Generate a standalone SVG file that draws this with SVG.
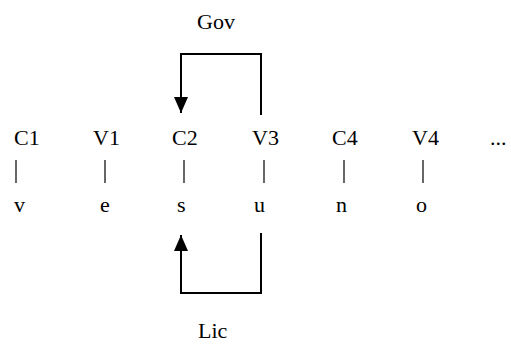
<svg xmlns="http://www.w3.org/2000/svg" width="511" height="349" viewBox="0 0 511 349">
<style>
text{font-family:"Liberation Serif","DejaVu Serif",serif;font-size:22px;fill:#000}
.ln{fill:none;stroke:#000;stroke-width:2}
.bar{stroke:#000;stroke-width:1.2}
</style>
<defs>
<marker id="ah" markerWidth="16" markerHeight="14" refX="16" refY="7" orient="auto" markerUnits="userSpaceOnUse" viewBox="0 0 16 14">
<path d="M0,0 L16,7 L0,14 Z" fill="#000"/>
</marker>
</defs>
<rect width="511" height="349" fill="#fff"/>
<g id="C1"><text x="14" y="145">C1</text><line class="bar" x1="16" y1="160" x2="16" y2="183"/><text x="14" y="212">v</text></g>
<g id="V1"><text x="93" y="145">V1</text><line class="bar" x1="105" y1="160" x2="105" y2="183"/><text x="100" y="212">e</text></g>
<g id="C2"><text x="172" y="145">C2</text><line class="bar" x1="184" y1="160" x2="184" y2="183"/><text x="177" y="212">s</text></g>
<g id="V3"><text x="252" y="145">V3</text><line class="bar" x1="264" y1="160" x2="264" y2="183"/><text x="254" y="212">u</text></g>
<g id="C4"><text x="332" y="145">C4</text><line class="bar" x1="344" y1="160" x2="344" y2="183"/><text x="336" y="212">n</text></g>
<g id="V4"><text x="412" y="145">V4</text><line class="bar" x1="423" y1="160" x2="423" y2="183"/><text x="416" y="212">o</text></g>
<g id="dots"><text x="490" y="145">...</text></g>
<g id="Gov"><text x="197" y="29">Gov</text></g>
<g id="Lic"><text x="198" y="338">Lic</text></g>
<g id="connectors">
<path class="ln" d="M261,115 L261,54 L181,54 L181,113" marker-end="url(#ah)"/>
<path class="ln" d="M261,233 L261,293 L181,293 L181,235" marker-end="url(#ah)"/>
</g>
</svg>
